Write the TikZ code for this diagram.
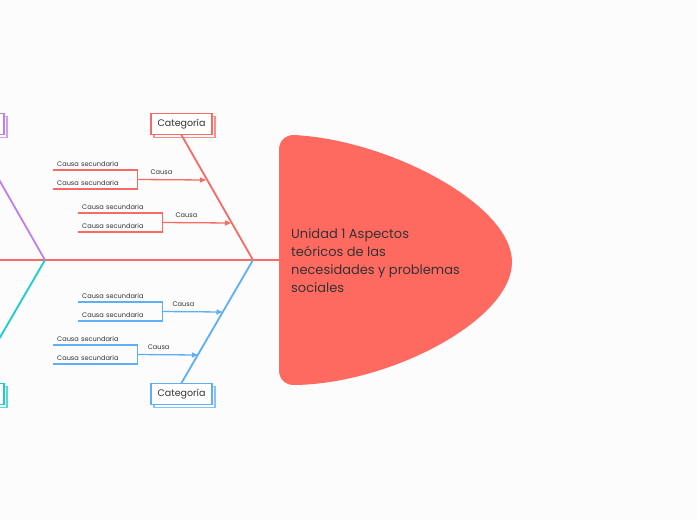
\documentclass[tikz,border=0pt]{standalone}
\usepackage{fontspec}
\setmainfont{Poppins}
\usetikzlibrary{arrows.meta,positioning,calc}
\definecolor{fishred}{HTML}{F66B63}
\definecolor{headred}{HTML}{FF6A60}
\definecolor{fishblue}{HTML}{5FAEF8}
\definecolor{fishpurple}{HTML}{C27EEC}
\definecolor{fishcyan}{HTML}{1ACCCE}
\definecolor{inkgray}{HTML}{333333}
\definecolor{paper}{HTML}{FCFCFC}

\begin{document}
\begin{tikzpicture}[x=1pt,y=-1pt,
  cat/.style={draw=#1,fill=white,line width=1.1pt,minimum width=61pt,minimum height=21pt,font=\fontsize{9.5}{10}\selectfont,text=inkgray,inner sep=2pt},
  catback/.style={draw=#1!75,fill=white,line width=1.1pt,minimum width=61pt,minimum height=21pt,inner sep=0pt},
  sec/.style={anchor=south west,text width=76pt,inner xsep=4pt,inner ysep=3.5pt,font=\fontsize{6.6}{7}\selectfont,text=inkgray,align=left},
  lab/.style={font=\fontsize{6.6}{7}\selectfont,text=inkgray,above=2pt,inner sep=2pt},
  bone/.style={line width=1.8pt},
  twig/.style={line width=1.3pt},
  >={Triangle[length=6pt,width=5pt]}]
  \fill[paper] (0,0) rectangle (697,520);
  \useasboundingbox (0,0) rectangle (697,520);
  \clip (0,0) rectangle (697,520);
  % head
  \fill[headred] (294,385) .. controls (285,385) and (279,379) .. (279,370) -- (279,150)
    .. controls (279,141) and (285,135) .. (294,135)
    .. controls (390,140) and (512,205) .. (512,262)
    .. controls (512,320) and (390,384) .. (294,385) -- cycle;
  \node[anchor=west,align=left,text=inkgray,font=\fontsize{13}{18}\selectfont,inner sep=0pt] (topic) at (291,261)
    {Unidad 1 Aspectos\\teóricos de las\\necesidades y problemas\\sociales};
  % spine
  \coordinate (tail) at (0,260);
  \coordinate (headl) at (279,260);
  \coordinate (rj) at (253,260);
  \coordinate (pj) at (45,260);
  \draw[fishred,bone] (tail) -- (headl);
  % categories
  \node[catback=fishred] at (184.5,127) {};
  \node[cat=fishred] (c1) at (181.5,124) {Categoría};
  \node[catback=fishblue] at (184.5,397) {};
  \node[cat=fishblue] (c2) at (181.5,394) {Categoría};
  \node[catback=fishpurple] at (-23.5,127) {};
  \node[cat=fishpurple] (c3) at (-26.5,124) {};
  \node[catback=fishcyan] at (-23.5,397) {};
  \node[cat=fishcyan] (c4) at (-26.5,394) {};
  \draw[fishred,bone] (rj) -- (c1.south);
  \draw[fishblue,bone] (rj) -- (c2.north);
  \draw[fishpurple,bone] (pj) -- (c3.south);
  \draw[fishcyan,bone] (pj) -- (c4.north);
  % red causes
  \node[sec] (s1a) at (53,170) {Causa secundaria};
  \node[sec] (s1b) at (53,189) {Causa secundaria};
  \draw[fishred,twig] (s1a.south west) -- (s1a.south east) -- (s1b.south east) -- (s1b.south west);
  \coordinate (e1) at (206,180);
  \draw[fishred,twig,->] ($(s1a.south east)!.5!(s1b.south east)$) -- node[lab,pos=.35] {Causa} (e1);
  \node[sec] (s2a) at (78,213) {Causa secundaria};
  \node[sec] (s2b) at (78,232) {Causa secundaria};
  \draw[fishred,twig] (s2a.south west) -- (s2a.south east) -- (s2b.south east) -- (s2b.south west);
  \coordinate (e2) at (231,223);
  \draw[fishred,twig,->] ($(s2a.south east)!.5!(s2b.south east)$) -- node[lab,pos=.35] {Causa} (e2);
  % blue causes
  \node[sec] (s3a) at (78,302) {Causa secundaria};
  \node[sec] (s3b) at (78,321) {Causa secundaria};
  \draw[fishblue,twig] (s3a.south west) -- (s3a.south east) -- (s3b.south east) -- (s3b.south west);
  \coordinate (e3) at (222.5,312);
  \draw[fishblue,twig,->] ($(s3a.south east)!.5!(s3b.south east)$) -- node[lab,pos=.35] {Causa} (e3);
  \node[sec] (s4a) at (53,345) {Causa secundaria};
  \node[sec] (s4b) at (53,364) {Causa secundaria};
  \draw[fishblue,twig] (s4a.south west) -- (s4a.south east) -- (s4b.south east) -- (s4b.south west);
  \coordinate (e4) at (198,355);
  \draw[fishblue,twig,->] ($(s4a.south east)!.5!(s4b.south east)$) -- node[lab,pos=.35] {Causa} (e4);
  % purple cause, mostly off the page
  \coordinate (p0) at (-60,183);
  \coordinate (e5) at (1.5,183);
  \draw[fishpurple,twig,->] (p0) -- (e5);
\end{tikzpicture}
\end{document}
